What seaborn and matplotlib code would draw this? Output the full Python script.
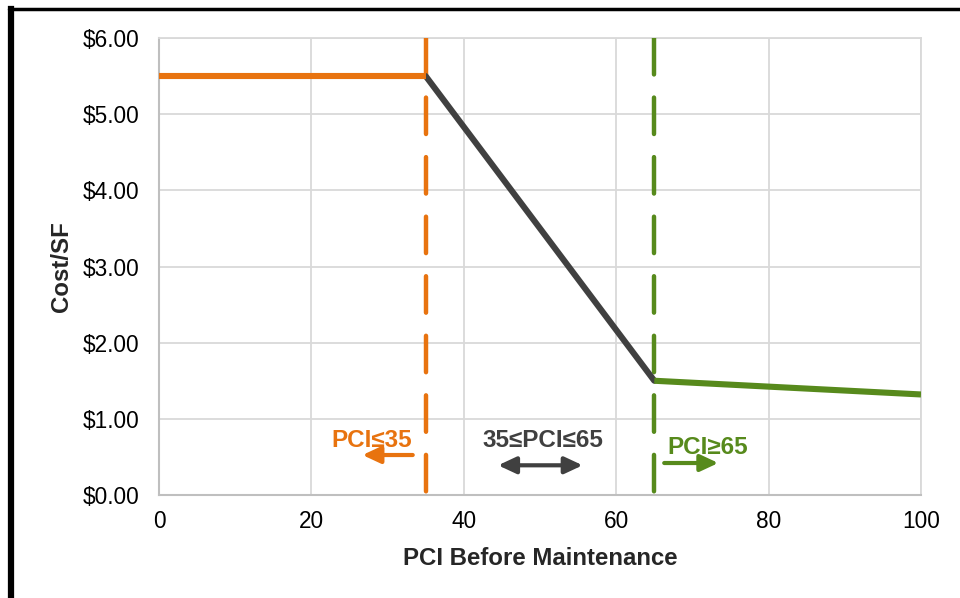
import matplotlib
matplotlib.use("Agg")
import matplotlib.pyplot as plt
import seaborn as sns
import pandas as pd
from matplotlib.lines import Line2D
from matplotlib.ticker import FuncFormatter

# ---- data ----
seg_low_x = [0, 35]
seg_low_y = [5.5, 5.5]
seg_mid_x = [35, 65]
seg_mid_y = [5.5, 1.5]
seg_high_x = [65, 100]
seg_high_y = [1.5, 1.32]
thresholds = [35, 65]
x_ticks = [0, 20, 40, 60, 80, 100]
y_ticks = [0, 1, 2, 3, 4, 5, 6]
labels = ["PCI≤35", "35≤PCI≤65", "PCI≥65"]

ORANGE = "#E8730F"
GRAY = "#404040"
GREEN = "#578A1C"

sns.set_theme(style="white")
plt.rcParams['font.family'] = ['Liberation Sans', 'DejaVu Sans']

fig = plt.figure(figsize=(9.6, 5.98), dpi=100)
ax = fig.add_axes([159/960, 103/598, 762/960, 457/598])

df_low = pd.DataFrame({"x": seg_low_x, "y": seg_low_y})
df_mid = pd.DataFrame({"x": seg_mid_x, "y": seg_mid_y})
df_high = pd.DataFrame({"x": seg_high_x, "y": seg_high_y})

lw_main = 4.4
sns.lineplot(data=df_low, x="x", y="y", ax=ax, color=ORANGE, lw=lw_main, zorder=5,
             solid_capstyle="butt")
sns.lineplot(data=df_mid, x="x", y="y", ax=ax, color=GRAY, lw=lw_main, zorder=4,
             solid_capstyle="round")
sns.lineplot(data=df_high, x="x", y="y", ax=ax, color=GREEN, lw=lw_main, zorder=5,
             solid_capstyle="butt")

for xv, c in zip(thresholds, [ORANGE, GREEN]):
    # drawn from top to bottom so the dash pattern starts at the top
    ax.axvline(xv, ymin=1, ymax=0, color=c, lw=3.2, dashes=(8.2, 5.2),
               dash_capstyle="round", zorder=3)

ax.set_xlim(0, 100)
ax.set_ylim(0, 6)
ax.set_xticks(x_ticks)
ax.set_yticks(y_ticks)
ax.yaxis.set_major_formatter(FuncFormatter(lambda v, p: f"${v:.2f}"))
ax.grid(True, color="#d9d9d9", lw=1.3)
ax.set_axisbelow(True)
for s in ["top", "right"]:
    ax.spines[s].set_color("#d9d9d9")
    ax.spines[s].set_linewidth(1.3)
for s in ["left", "bottom"]:
    ax.spines[s].set_color("#bfbfbf")
    ax.spines[s].set_linewidth(1.5)
ax.tick_params(axis="both", length=0, labelsize=16.3, colors="black")
ax.tick_params(axis="y", pad=14)
ax.tick_params(axis="x", pad=11)

ax.set_xlabel("PCI Before Maintenance", fontsize=17.3, fontweight="bold", labelpad=10)
ax.set_ylabel("Cost/SF", fontsize=17.3, fontweight="bold", labelpad=7)

# annotations
fs_ann = 17.5
ax.text(27.9, 0.72, labels[0], color=ORANGE, fontsize=fs_ann, fontweight="bold",
        ha="center", va="center")
ax.annotate("", xy=(26.7, 0.525), xytext=(33.3, 0.525),
            arrowprops=dict(arrowstyle="-|>,head_length=0.9,head_width=0.42",
                            color=ORANGE, lw=3, shrinkA=0, shrinkB=0))
ax.text(50.4, 0.72, labels[1], color=GRAY, fontsize=fs_ann, fontweight="bold",
        ha="center", va="center")
ax.annotate("", xy=(44.5, 0.39), xytext=(55.6, 0.39),
            arrowprops=dict(arrowstyle="<|-|>,head_length=0.9,head_width=0.42",
                            color=GRAY, lw=3, shrinkA=0, shrinkB=0))
ax.text(72.0, 0.62, labels[2], color=GREEN, fontsize=fs_ann, fontweight="bold",
        ha="center", va="center")
ax.annotate("", xy=(73.4, 0.42), xytext=(66.3, 0.42),
            arrowprops=dict(arrowstyle="-|>,head_length=0.9,head_width=0.42",
                            color=GREEN, lw=3, shrinkA=0, shrinkB=0))

# figure border (left and top)
fig.add_artist(Line2D([11/960, 11/960], [0, 1 - 9/598], color="black", lw=4.5,
                      transform=fig.transFigure, solid_capstyle="projecting"))
fig.add_artist(Line2D([9/960, 1], [1 - 9/598, 1 - 9/598], color="black", lw=2.5,
                      transform=fig.transFigure))

fig.savefig("out.png", dpi=100)
